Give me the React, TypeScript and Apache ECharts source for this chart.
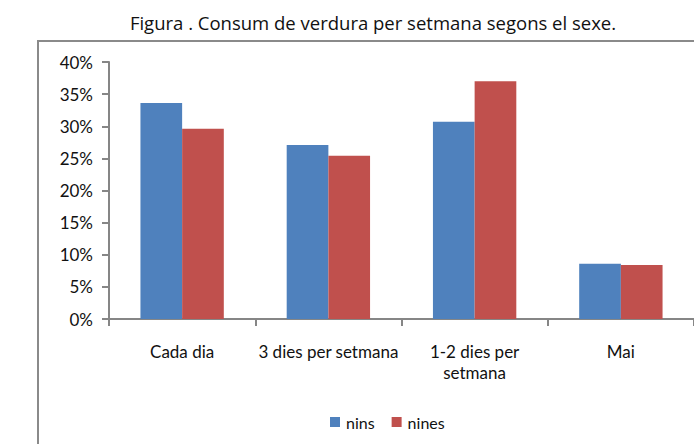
import React, { useEffect, useRef } from "react";
import * as echarts from "echarts";

const categories = ["Cada dia", "3 dies per setmana", "1-2 dies per\nsetmana", "Mai"];
const nins = [0.336, 0.271, 0.307, 0.086];
const nines = [0.296, 0.254, 0.37, 0.084];
const seriesNames = ["nins", "nines"];

export default function App() {
  const ref = useRef<HTMLDivElement>(null);
  useEffect(() => {
    if (!ref.current) return;
    const chart = echarts.init(ref.current, null, { renderer: "svg" });
    chart.setOption({
      animation: false,
      backgroundColor: "#fff",
      title: {
        text: "Figura . Consum de verdura per setmana segons el sexe.",
        left: 368,
        textAlign: "center",
        top: 8,
        textStyle: { fontFamily: "Open Sans", fontSize: 18.5, fontWeight: "normal", color: "#111" },
      },
      graphic: [
        {
          type: "rect",
          shape: { x: 38, y: 41, width: 700, height: 500 },
          style: { fill: "none", stroke: "#8a8a8a", lineWidth: 2 },
          silent: true,
        },
      ],
      legend: {
        data: seriesNames,
        left: 325,
        top: 409,
        itemWidth: 10,
        itemHeight: 10,
        itemGap: 17,
        icon: "rect",
        textStyle: { fontFamily: "Lato", fontSize: 16, color: "#111", padding: [0, 0, 0, 1] },
      },
      grid: { left: 109, top: 62, width: 588, height: 257 },
      xAxis: {
        type: "category",
        data: categories,
        axisLine: { lineStyle: { color: "#868686", width: 2 } },
        axisTick: { show: true, alignWithLabel: false, length: 7, lineStyle: { color: "#868686", width: 2 } },
        axisLabel: { fontFamily: "Lato", fontSize: 17, color: "#111", margin: 22, lineHeight: 21, interval: 0 },
      },
      yAxis: {
        type: "value",
        min: 0,
        max: 0.4,
        interval: 0.05,
        axisLine: { show: true, lineStyle: { color: "#868686", width: 2 } },
        axisTick: { show: true, length: 7, lineStyle: { color: "#868686", width: 2 } },
        splitLine: { show: false },
        axisLabel: {
          fontFamily: "Lato",
          fontSize: 17,
          color: "#111",
          margin: 16,
          formatter: (v: number) => Math.round(v * 100) + "%",
        },
      },
      series: [
        {
          name: seriesNames[0],
          type: "bar",
          data: nins,
          barGap: "0%",
          barCategoryGap: "43%",
          itemStyle: { color: "#4f81bd" },
        },
        {
          name: seriesNames[1],
          type: "bar",
          data: nines,
          itemStyle: { color: "#c0504d" },
        },
      ],
    });
    return () => chart.dispose();
  }, []);
  return <div ref={ref} style={{ width: 694, height: 444, position: "absolute", left: 0, top: 0 }} />;
}
